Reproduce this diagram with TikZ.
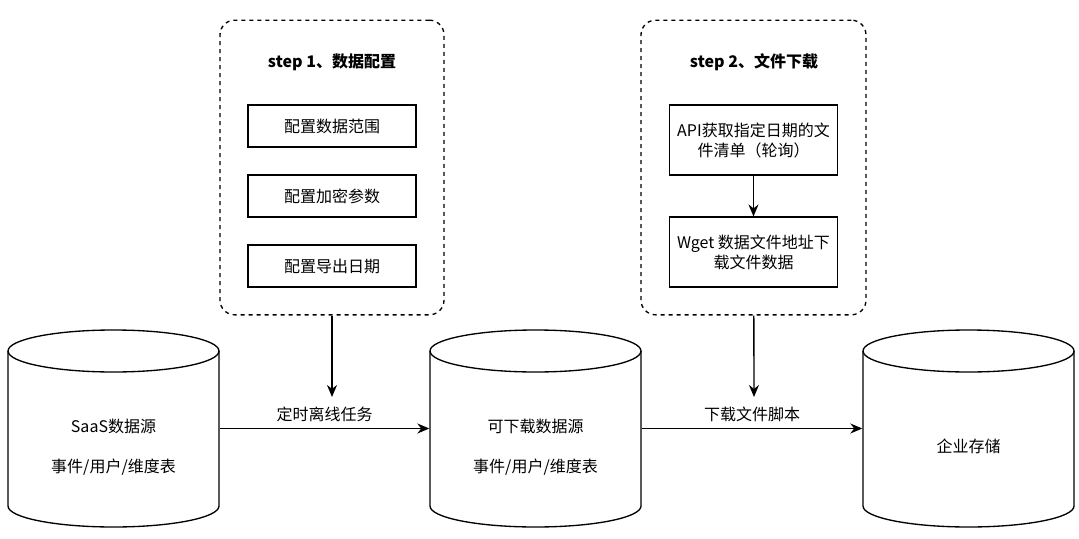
\documentclass[tikz,border=0pt]{standalone}
\usepackage{fontspec}
\setmainfont{Noto Sans CJK SC}
\usetikzlibrary{arrows.meta,positioning}
\begin{document}
\begin{tikzpicture}[x=0.75pt, y=-0.75pt, line width=1pt, >={Stealth[length=9pt,width=7.5pt]},
  every node/.style={font=\fontsize{12}{15}\selectfont},
  step box/.style={draw, dash pattern=on 3pt off 3pt, rounded corners=11pt, minimum width=168pt, minimum height=221pt, inner sep=0pt},
  step title/.style={font=\bfseries\fontsize{12}{15}\selectfont},
  task/.style={draw, line width=0.8pt, minimum width=126pt, minimum height=31.5pt, align=center, inner sep=0pt},
  cyl body/.style={minimum width=158.25pt, minimum height=116.25pt, inner sep=0pt},
  cyl text/.style={align=center, font=\fontsize{12}{30}\selectfont}]
\useasboundingbox (0,0) rectangle (1079,539);
% the three stores
\foreach \cx in {113.5, 535.5, 968.5}{
  \draw (\cx,351) ellipse [x radius=105.5, y radius=21];
  \draw (\cx-105.5,351) -- (\cx-105.5,506) arc[start angle=180, end angle=0, x radius=105.5, y radius=21] -- (\cx+105.5,351);
}
\node[cyl body] (saas) at (113.5,428.5) {};
\node[cyl body] (dl) at (535.5,428.5) {};
\node[cyl body] (store) at (968.5,428.5) {};
\node[cyl text] (saas text) at (113.5,447) {SaaS数据源\\事件/用户/维度表};
\node[cyl text] (dl text) at (535.5,447) {可下载数据源\\事件/用户/维度表};
\node[cyl text] (store text) at (968.5,446) {企业存储};
% step 1
\node[step box] (step1) at (332,167.5) {};
\node[step title] (step1 title) at (332,62) {step 1、数据配置};
\node[task] (range) at (332,126) {配置数据范围};
\node[task] (key) at (332,196) {配置加密参数};
\node[task] (date) at (332,266) {配置导出日期};
% step 2
\node[step box, minimum width=168.75pt] (step2) at (753.5,167.5) {};
\node[step title] (step2 title) at (754,62) {step 2、文件下载};
\node[task, minimum height=52.5pt] (api) at (753.5,140) {API获取指定日期的文\\件清单（轮询）};
\node[task, minimum height=52.5pt] (wget) at (753.5,252) {Wget 数据文件地址下\\载文件数据};
% connectors
\coordinate (job tip) at (332,397);
\coordinate (script tip) at (754,397);
\draw[->] (api) -- (wget);
\draw[->] (step1) -- (job tip);
\draw[->] (step2) -- (script tip);
\draw[->] (saas) -- node[above=1pt] (job) {定时离线任务} (dl);
\draw[->] (dl) -- node[above=1pt] (script) {下载文件脚本} (store);
\end{tikzpicture}
\end{document}
